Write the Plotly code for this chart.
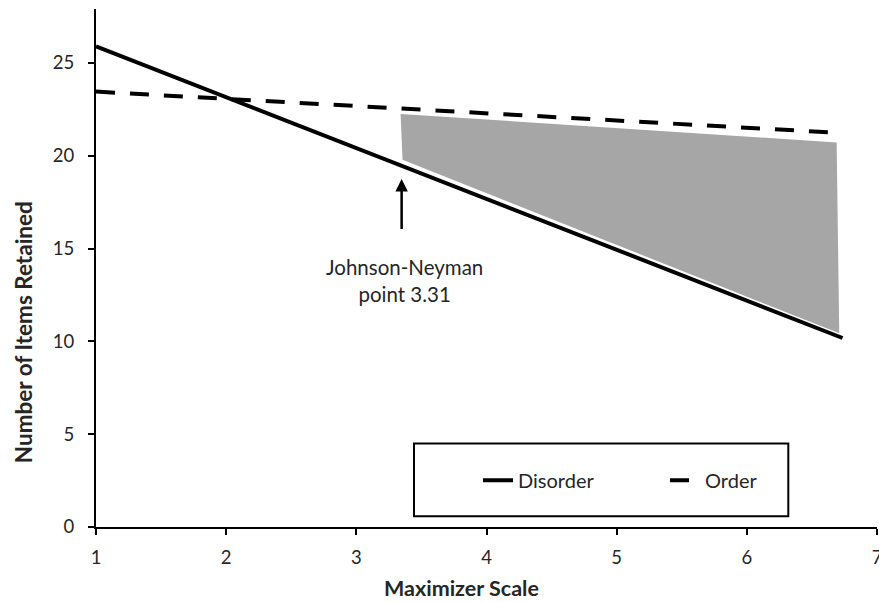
import plotly.graph_objects as go

# Data
line_x = [1.0, 6.735]
disorder_y = [25.89, 10.18]
order_y = [23.45, 21.22]

shade_x = [3.34, 6.69, 6.71, 3.355]
shade_y = [22.25, 20.71, 10.43, 19.78]

jn_point = 3.348
arrow_tip_y = 18.74
arrow_tail_y = 15.97

x_ticks = [1, 2, 3, 4, 5, 6, 7]
y_ticks = [0, 5, 10, 15, 20, 25]

FONT = "Lato, 'Open Sans', sans-serif"
TXT = "#262626"

PL, PR, PT, PB = 96, 2, 9, 75.3
PW = 879 - PL - PR
PH = 602 - PT - PB


def px_x(p):
    return (p - PL) / PW


def px_y(p):
    return (602 - PB - p) / PH


fig = go.Figure()

fig.add_trace(go.Scatter(
    x=shade_x, y=shade_y, fill="toself", mode="lines",
    line=dict(width=0), fillcolor="#a6a6a6", showlegend=False, hoverinfo="skip"))

fig.add_trace(go.Scatter(
    x=line_x, y=disorder_y, mode="lines", name="Disorder",
    line=dict(color="black", width=4)))

fig.add_trace(go.Scatter(
    x=line_x, y=order_y, mode="lines", name="Order",
    line=dict(color="black", width=4, dash="19px,15px")))

fig.add_annotation(
    x=jn_point, y=arrow_tip_y, ax=jn_point, ay=arrow_tail_y,
    xref="x", yref="y", axref="x", ayref="y",
    showarrow=True, arrowhead=2, arrowsize=1, arrowwidth=2.5, arrowcolor="black", text="")

fig.add_annotation(
    x=3.373, y=13.3, xref="x", yref="y",
    text="Johnson-Neyman<br>point 3.31", showarrow=False,
    font=dict(family=FONT, size=20.5, color=TXT), align="center",
    yanchor="middle", xanchor="center")

# axis titles
fig.add_annotation(
    x=px_x(461), y=px_y(588), xref="paper", yref="paper", text="<b>Maximizer Scale</b>",
    showarrow=False, font=dict(family=FONT, size=21.5, color=TXT),
    xanchor="center", yanchor="middle")
fig.add_annotation(
    x=px_x(23), y=px_y(332), xref="paper", yref="paper", text="<b>Number of Items Retained</b>",
    showarrow=False, textangle=-90, font=dict(family=FONT, size=22.5, color=TXT),
    xanchor="center", yanchor="middle")

# legend box
fig.add_shape(type="rect", xref="paper", yref="paper",
              x0=px_x(414), x1=px_x(788.3),
              y0=px_y(516), y1=px_y(443.3),
              line=dict(color="black", width=2), fillcolor="white", layer="below")

fig.update_layout(
    width=879, height=602,
    margin=dict(l=PL, r=PR, t=PT, b=PB),
    plot_bgcolor="white", paper_bgcolor="white",
    font=dict(family=FONT, size=18, color=TXT),
    showlegend=True,
    legend=dict(orientation="h", x=px_x(478), xanchor="left",
                y=px_y(480), yanchor="middle",
                bgcolor="rgba(0,0,0,0)", borderwidth=0,
                font=dict(family=FONT, size=20, color=TXT),
                entrywidth=142, entrywidthmode="pixels"),
    xaxis=dict(range=[1, 7], tickvals=x_ticks, showgrid=False, zeroline=False,
               showline=True, linecolor="black", linewidth=2,
               ticks="outside", ticklen=6, tickwidth=2, tickcolor="black",
               automargin=False, tickfont=dict(size=18.5), ticklabeloverflow="allow",
               ticklabelstandoff=7),
    yaxis=dict(range=[0, 27.9], tickvals=y_ticks, showgrid=False, zeroline=False,
               showline=True, linecolor="black", linewidth=2,
               ticks="outside", ticklen=6, tickwidth=2, tickcolor="black",
               automargin=False, tickfont=dict(size=18.5), ticklabelstandoff=10),
)

fig.write_html("out.html", config={"displayModeBar": False},
               post_script="document.body.style.margin='0';document.body.style.overflow='hidden';")
